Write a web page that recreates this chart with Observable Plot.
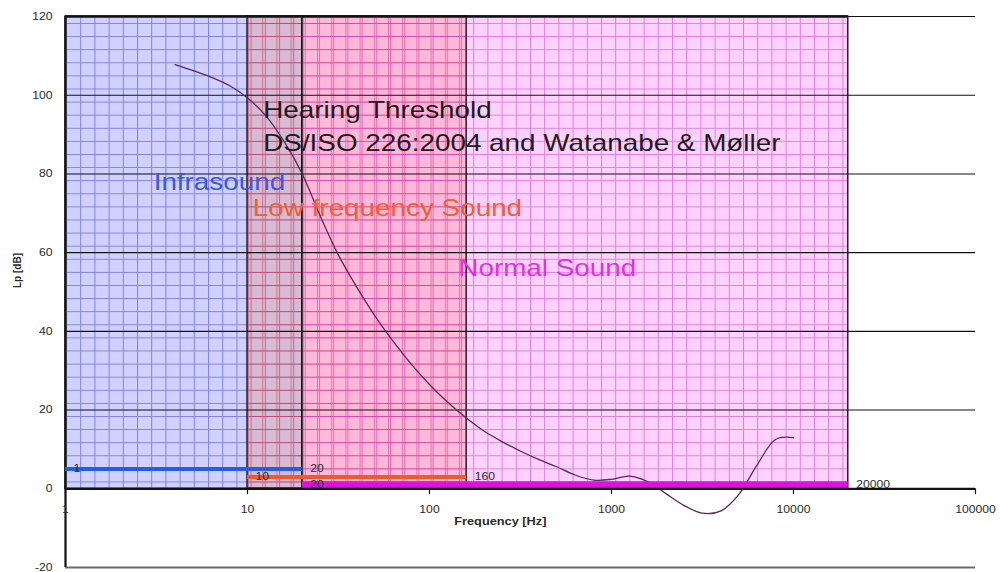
<!DOCTYPE html>
<html>
<head>
<meta charset="utf-8">
<script src="https://cdn.jsdelivr.net/npm/d3@7"></script>
<script src="https://cdn.jsdelivr.net/npm/@observablehq/plot@0.6"></script>
<style>
  html, body { margin: 0; padding: 0; background: #fff; }
  #chart svg { display: block; }
</style>
</head>
<body>
<div id="chart"></div>
<script>
// Hearing threshold: Watanabe & Møller below 20 Hz, DS/ISO 226 above
const freqHz = [4, 5, 6.3, 8, 10, 12.5, 16, 20, 25, 31.5, 40, 50, 63, 80, 100, 125, 160, 200, 250, 315, 400, 500, 630, 800, 1000, 1250, 1600, 2000, 2500, 3150, 4000, 5000, 6300, 8000, 10000];
const thresholdDb = [107.8, 106.3, 104.6, 102.4, 99.3, 95, 88, 80, 69.5, 59.5, 51.1, 44, 37.5, 31.5, 26.5, 22.1, 17.9, 14.6, 12, 9.6, 7.4, 5.6, 3.5, 2.2, 2.4, 3.2, 1.7, -1.3, -4.2, -6.2, -5.6, -1.5, 6, 12.6, 13];

// Frequency bands and the level of each band's range bar
const bandNames = ["Infrasound", "Low frequency Sound", "Normal Sound"];
const bandFrom = [1, 10, 20];
const bandTo = [20, 160, 20000];
const bandBarDb = [5, 3, 1];
const bandTop = 120;

// Annotations
const noteText = ["Hearing Threshold", "DS/ISO 226:2004 and Watanabe & Møller", "Infrasound", "Low frequency Sound", "Normal Sound"];
const noteFreq = [12.2, 12.2, 3.05, 10.7, 144];
const noteDb = [96.2, 87.7, 77.8, 71.2, 56];

// Axis ticks
const xTicks = [1, 10, 100, 1000, 10000, 100000];
const yTicks = [-20, 0, 20, 40, 60, 80, 100, 120];

// Styling
const bandFill = {"Infrasound": "#0000ff", "Low frequency Sound": "#ff5a00", "Normal Sound": "#ff00ff"};
const bandGrid = {"Infrasound": "#2222b8", "Low frequency Sound": "#e0103a", "Normal Sound": "#b01cb0"};
const bandBar = {"Infrasound": "#1f5ee6", "Low frequency Sound": "#f05a24", "Normal Sound": "#e010e0"};
const bandBarWidth = {"Infrasound": 4, "Low frequency Sound": 4, "Normal Sound": 7};
const noteColor = ["#1e1a1c", "#1e1a1c", "#3a5ad8", "#f0602c", "#e030e0"];

const curve = freqHz.map((f, i) => ({f, db: thresholdDb[i]}));
const bands = bandNames.map((name, i) => ({name, from: bandFrom[i], to: bandTo[i], bar: bandBarDb[i]}));
const notes = noteText.map((text, i) => ({text, f: noteFreq[i], db: noteDb[i], color: noteColor[i]}));

const font = "'Liberation Sans', Arial, sans-serif";
const xMin = d3.min(bandFrom), xMax = d3.max(bandTo);

const chart = Plot.plot({
  width: 1000,
  height: 572,
  marginLeft: 65,
  marginRight: 25,
  marginTop: 16,
  marginBottom: 5,
  style: {fontFamily: font, background: "#fff"},
  x: {type: "log", domain: [1, 100000], axis: null},
  y: {domain: [-20, 120], axis: null},
  marks: [
    // shaded bands (filled with graph-paper patterns below)
    Plot.rect(bands, {x1: "from", x2: "to", y1: 0, y2: bandTop, fill: d => bandFill[d.name]}),
    // band outlines
    Plot.rect(bands, {x1: "from", x2: "to", y1: 0, y2: bandTop, fill: "none", stroke: "#111", strokeWidth: 1.4}),
    // major horizontal gridlines
    Plot.ruleY(yTicks.filter(v => v > 0), {stroke: "#111", strokeWidth: 1.1}),
    Plot.ruleY([bandTop], {x1: xMin, x2: xMax, stroke: "#111", strokeWidth: 2.6}),
    Plot.ruleY([-20], {stroke: "#6a6a6a", strokeWidth: 2.2}),
    // left axis
    Plot.ruleX([1], {y1: -20, y2: 120, stroke: "#111", strokeWidth: 2.2}),
    // hearing threshold curve
    Plot.line(curve, {x: "f", y: "db", curve: "catmull-rom", stroke: "#5a2858", strokeWidth: 1.3}),
    // band range bars
    Plot.ruleY(bands, {x1: "from", x2: "to", y: "bar", stroke: d => bandBar[d.name], strokeWidth: d => bandBarWidth[d.name]}),
    // zero axis with decade ticks
    Plot.ruleY([0], {stroke: "#111", strokeWidth: 2.2}),
    Plot.ruleX(xTicks, {y1: 0, y2: -1.5, stroke: "#111", strokeWidth: 1.2}),
    // bar end labels
    Plot.text(bands, {x: "from", y: "bar", text: d => String(d.from), textAnchor: "start", dx: 8, fontSize: 10.5, fill: "#2a2a2a"}),
    Plot.text(bands, {x: "to", y: "bar", text: d => String(d.to), textAnchor: "start", dx: 8, fontSize: 10.5, fill: "#2a2a2a"}),
    // annotations
    Plot.text(notes, {x: "f", y: "db", text: "text", fill: "color", textAnchor: "start", fontSize: 24}),
    // tick labels
    Plot.text(yTicks, {x: 1, y: d => d, text: d => String(d), textAnchor: "end", dx: -13, fontSize: 10.5, fill: "#2a2a2a"}),
    Plot.text(xTicks, {x: d => d, y: 0, text: d => String(d), dy: 21, fontSize: 10.5, fill: "#2a2a2a"}),
    // axis titles
    Plot.text(["Frequency [Hz]"], {x: 245, y: 0, text: d => d, dy: 33, fontSize: 11, fontWeight: "bold", fill: "#2a2a2a"}),
    Plot.text(["Lp [dB]"], {frameAnchor: "left", text: d => d, dx: -48, dy: -4, rotate: -90, fontSize: 10, fontWeight: "bold", fill: "#2a2a2a"})
  ]
});

// Graph-paper fill for each band
const sx = chart.scale("x");
const sy = chart.scale("y");
const svg = d3.select(chart);
const bandRects = bands.map(b => svg.selectAll("rect").filter(function () {
  return this.getAttribute("fill") === bandFill[b.name];
}));
const defs = svg.insert("defs", ":first-child");
const tileW = 14.2, tileH = 13.1;
bands.forEach((b, i) => {
  const p = defs.append("pattern")
    .attr("id", "paper-" + i)
    .attr("patternUnits", "userSpaceOnUse")
    .attr("x", sx.apply(b.from) + 1)
    .attr("y", sy.apply(bandTop) + 7)
    .attr("width", tileW)
    .attr("height", tileH);
  p.append("rect").attr("width", tileW).attr("height", tileH)
    .attr("fill", bandFill[b.name]).attr("fill-opacity", 0.18);
  p.append("path").attr("d", `M0.5,0V${tileH}M0,0.5H${tileW}`)
    .attr("stroke", bandGrid[b.name]).attr("stroke-opacity", 0.45).attr("stroke-width", 1).attr("fill", "none");
  bandRects[i].attr("fill", `url(#paper-${i})`);
});

// Wide, Excel-like lettering
svg.selectAll("text").each(function () {
  const t = this.getAttribute("transform") || "";
  if (!t.includes("rotate")) this.setAttribute("transform", (t + " scale(1.16,1)").trim());
});

document.getElementById("chart").appendChild(chart);
</script>
</body>
</html>
